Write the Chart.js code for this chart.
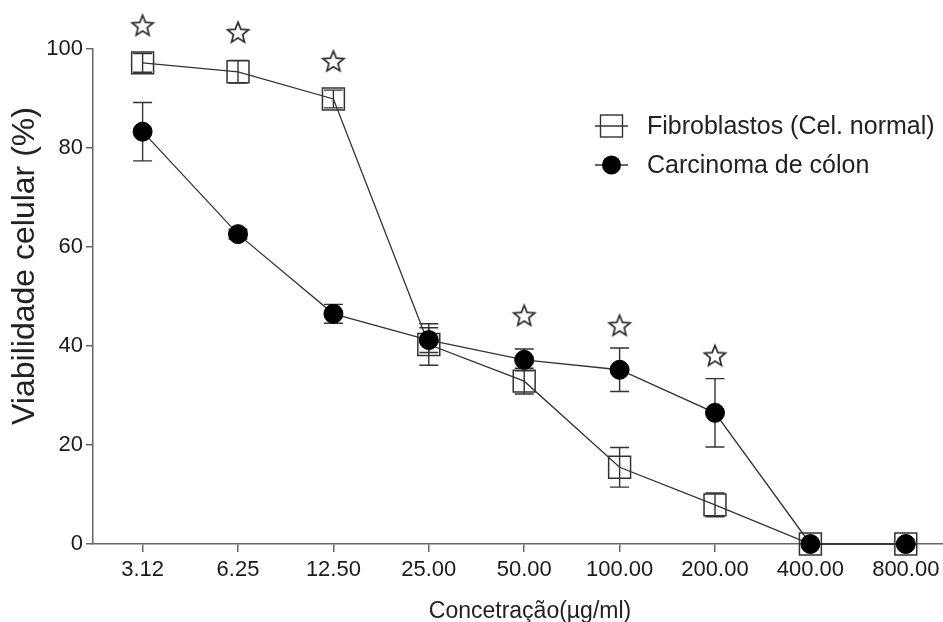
<!DOCTYPE html>
<html>
<head>
<meta charset="utf-8">
<script src="https://cdn.jsdelivr.net/npm/chart.js@4/dist/chart.umd.min.js"></script>
<style>
  html, body { margin: 0; padding: 0; background: #fff; }
</style>
</head>
<body>
<canvas id="grafico" width="943" height="622"></canvas>
<script>
// Concentrações testadas (µg/ml) - eixo x
const concentracoes = ['3.12', '6.25', '12.50', '25.00', '50.00', '100.00', '200.00', '400.00', '800.00'];
// Viabilidade celular (%) e desvio de cada série
const fibroblastos = [97.2, 95.4, 89.9, 40.3, 32.9, 15.5, 7.9, 0, 0];
const fibroblastosErro = [1.9, 2.3, 1.8, 4.2, 2.6, 4.0, 2.4, 0, 0];
const carcinoma = [83.3, 62.6, 46.5, 41.2, 37.2, 35.2, 26.5, 0, 0];
const carcinomaErro = [5.9, 1.0, 1.9, 2.5, 2.2, 4.4, 6.9, 0, 0];
// Estrelas de significância (índice da concentração e altura)
const estrelasIdx = [0, 1, 2, 4, 5, 6];
const estrelasY = [104.8, 103.4, 97.6, 46.2, 44.2, 38.1];
// Marcas do eixo y
const yTicks = [0, 20, 40, 60, 80, 100];

const FONTE = "'Liberation Sans', Arial, sans-serif";
const COR = '#333';

// Desenha a estrela vazada usada como pointStyle
function criarEstrela() {
  const c = document.createElement('canvas');
  c.width = 26; c.height = 26;
  const g = c.getContext('2d');
  g.beginPath();
  for (let k = 0; k < 10; k++) {
    const r = k % 2 === 0 ? 11 : 4.8;
    const a = -Math.PI / 2 + k * Math.PI / 5;
    const px = 13 + r * Math.cos(a), py = 14 + r * Math.sin(a);
    if (k === 0) g.moveTo(px, py); else g.lineTo(px, py);
  }
  g.closePath();
  g.fillStyle = '#fff';
  g.fill();
  g.strokeStyle = '#2a2a2a';
  g.lineWidth = 1.7;
  g.stroke();
  return c;
}

// Barras de erro (desvio) desenhadas pelas escalas do gráfico
function desenharErros(ctx, xs, ys, valores, erros) {
  valores.forEach((v, i) => {
    const e = erros[i];
    if (!e) return;
    const x = xs.getPixelForValue(i);
    const yTop = ys.getPixelForValue(v + e);
    const yBot = ys.getPixelForValue(v - e);
    ctx.beginPath();
    ctx.moveTo(x, yTop); ctx.lineTo(x, yBot);
    ctx.moveTo(x - 9.5, yTop); ctx.lineTo(x + 9.5, yTop);
    ctx.moveTo(x - 9.5, yBot); ctx.lineTo(x + 9.5, yBot);
    ctx.stroke();
  });
}

const pluginExtras = {
  id: 'extras',
  beforeDatasetsDraw(chart) {
    const ctx = chart.ctx;
    const xs = chart.scales.x, ys = chart.scales.y;
    ctx.save();
    ctx.strokeStyle = COR;
    ctx.lineWidth = 1.4;
    desenharErros(ctx, xs, ys, fibroblastos, fibroblastosErro);
    desenharErros(ctx, xs, ys, carcinoma, carcinomaErro);
    ctx.restore();
  },
  afterDraw(chart) {
    const ctx = chart.ctx;
    ctx.save();
    ctx.fillStyle = '#222';
    ctx.strokeStyle = COR;
    ctx.lineWidth = 1.4;

    // Legenda
    const itens = [chart.data.datasets[0], chart.data.datasets[1]];
    const yLeg = [126, 165];
    itens.forEach((ds, i) => {
      const y = yLeg[i];
      ctx.beginPath();
      ctx.moveTo(595, y); ctx.lineTo(628, y);
      ctx.stroke();
      if (ds.pointStyle === 'rect') {
        ctx.strokeRect(600.5, y - 11, 22, 22);
      } else {
        ctx.beginPath();
        ctx.arc(611.5, y, 9.5, 0, Math.PI * 2);
        ctx.fillStyle = '#000';
        ctx.fill();
        ctx.fillStyle = '#222';
      }
      ctx.font = '25px ' + FONTE;
      ctx.textBaseline = 'middle';
      ctx.textAlign = 'left';
      ctx.fillText(ds.label, 647, y + 1);
    });

    // Título do eixo y
    ctx.save();
    ctx.translate(34, 266);
    ctx.rotate(-Math.PI / 2);
    ctx.font = '32px ' + FONTE;
    ctx.textAlign = 'center';
    ctx.textBaseline = 'alphabetic';
    ctx.fillText('Viabilidade celular (%)', 0, 0);
    ctx.restore();

    // Título do eixo x
    ctx.font = '23px ' + FONTE;
    ctx.textAlign = 'center';
    ctx.textBaseline = 'alphabetic';
    ctx.fillText('Concetração(µg/ml)', 530, 618);
    ctx.restore();
  }
};

const ctx = document.getElementById('grafico').getContext('2d');

new Chart(ctx, {
  type: 'line',
  data: {
    datasets: [
      {
        label: 'Fibroblastos (Cel. normal)',
        data: fibroblastos.map((y, i) => ({ x: i, y })),
        borderColor: COR,
        borderWidth: 1.3,
        pointStyle: 'rect',
        pointRadius: 15.5,
        pointBorderColor: COR,
        pointBorderWidth: 1.5,
        pointBackgroundColor: 'rgba(0,0,0,0)',
        tension: 0,
        clip: false,
        order: 2
      },
      {
        label: 'Carcinoma de cólon',
        data: carcinoma.map((y, i) => ({ x: i, y })),
        borderColor: COR,
        borderWidth: 1.3,
        pointStyle: 'circle',
        pointRadius: 9.5,
        pointBorderColor: '#000',
        pointBorderWidth: 1,
        pointBackgroundColor: '#000',
        tension: 0,
        clip: false,
        order: 1
      },
      {
        label: 'significância',
        data: estrelasIdx.map((x, i) => ({ x, y: estrelasY[i] })),
        showLine: false,
        pointStyle: criarEstrela(),
        // raio grande só para que as estrelas acima de 100 não sejam descartadas
        pointRadius: 40,
        pointBorderWidth: 0,
        clip: false,
        order: 0
      }
    ]
  },
  options: {
    responsive: false,
    devicePixelRatio: 1,
    animation: false,
    layout: { autoPadding: false, padding: { top: 49, right: 0, bottom: 0, left: 0 } },
    plugins: {
      legend: { display: false },
      tooltip: { enabled: false }
    },
    scales: {
      x: {
        type: 'linear',
        min: -0.52,
        max: 8.39,
        afterBuildTicks: s => { s.ticks = concentracoes.map((_, i) => ({ value: i })); },
        afterFit: s => { s.height = 78; s.paddingLeft = 0; s.paddingRight = 0; },
        ticks: {
          callback: v => concentracoes[v],
          font: { family: FONTE, size: 22 },
          color: '#1a1a1a',
          padding: 5,
          autoSkip: false,
          maxRotation: 0
        },
        grid: { drawOnChartArea: false, drawTicks: true, tickLength: 8, color: '#666', lineWidth: 1.5 },
        border: { color: '#666', width: 1.5 }
      },
      y: {
        min: 0,
        max: 100,
        afterBuildTicks: s => { s.ticks = yTicks.map(v => ({ value: v })); },
        afterFit: s => { s.width = 93; },
        ticks: {
          font: { family: FONTE, size: 22 },
          color: '#1a1a1a',
          padding: 3
        },
        grid: { drawOnChartArea: false, drawTicks: true, tickLength: 7, color: '#666', lineWidth: 1.5 },
        border: { color: '#666', width: 1.5 }
      }
    }
  },
  plugins: [pluginExtras]
});
</script>
</body>
</html>
